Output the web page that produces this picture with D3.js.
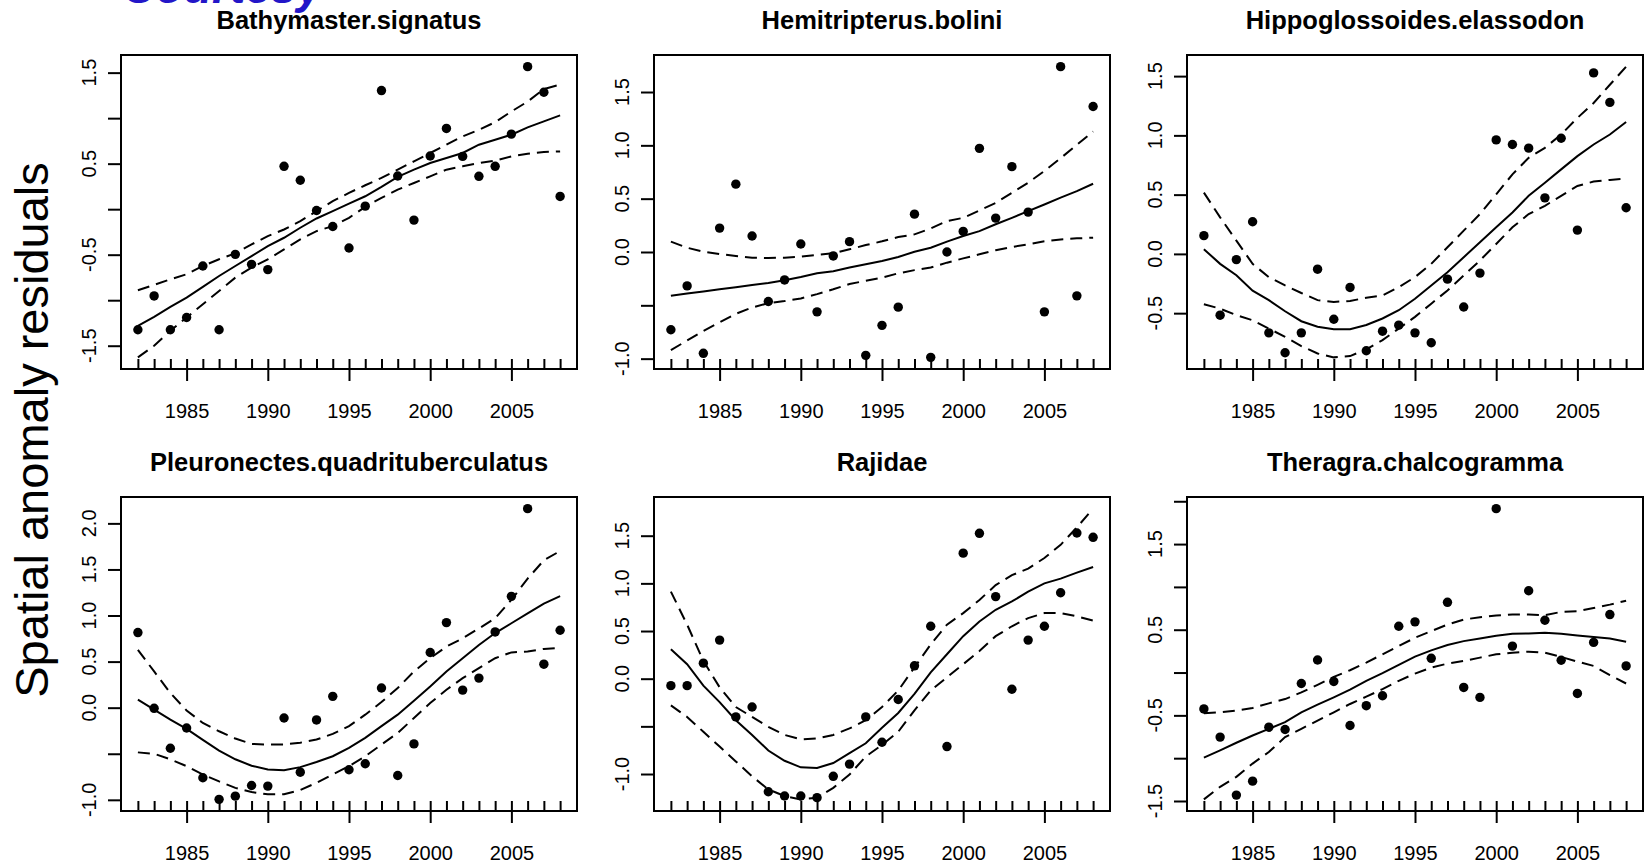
<!DOCTYPE html>
<html><head><meta charset="utf-8">
<script src="https://cdn.jsdelivr.net/npm/d3@7"></script>
<style>
html,body{margin:0;padding:0;background:#fff;}
svg{display:block;}
text{font-family:"Liberation Sans",Arial,Helvetica,sans-serif;}
</style></head><body>
<svg id="chart" width="1648" height="865"></svg>
<script>
// ---------------- DATA ----------------
const years = [1982,1983,1984,1985,1986,1987,1988,1989,1990,1991,1992,1993,1994,1995,1996,1997,1998,1999,2000,2001,2002,2003,2004,2005,2006,2007,2008];
const xLabelTicks = [1985,1990,1995,2000,2005];
const yAxisTitle = "Spatial anomaly residuals";
const bannerText = "Courtesy";

const titles = ["Bathymaster.signatus","Hemitripterus.bolini","Hippoglossoides.elassodon",
                "Pleuronectes.quadrituberculatus","Rajidae","Theragra.chalcogramma"];

// Bathymaster.signatus
const bathyPts   = [-1.325,-0.953,-1.325,-1.19,-0.624,-1.325,-0.496,-0.606,-0.664,0.471,0.318,-0.015,-0.19,-0.427,0.033,1.303,0.365,-0.12,0.584,0.887,0.58,0.361,0.471,0.825,1.566,1.285,0.14];
const bathyFit   = [-1.281,-1.182,-1.073,-0.971,-0.854,-0.734,-0.624,-0.515,-0.405,-0.314,-0.204,-0.102,-0.022,0.062,0.142,0.245,0.354,0.434,0.507,0.562,0.617,0.708,0.763,0.818,0.898,0.964,1.03];
const bathyUpper = [-0.89,-0.832,-0.77,-0.715,-0.624,-0.55,-0.485,-0.387,-0.296,-0.223,-0.131,-0.022,0.088,0.179,0.263,0.343,0.434,0.526,0.617,0.708,0.80,0.872,0.956,1.073,1.182,1.32,1.37];
const bathyLower = [-1.628,-1.50,-1.336,-1.19,-1.044,-0.898,-0.752,-0.642,-0.551,-0.442,-0.332,-0.241,-0.186,-0.095,0.026,0.124,0.215,0.288,0.361,0.434,0.471,0.507,0.533,0.58,0.609,0.628,0.635];
const bathyTicks = [-1.5,-1,-0.5,0,0.5,1,1.5];
const bathyTickLabels = [-1.5,-0.5,0.5,1.5];

// Hemitripterus.bolini
const hemiPts   = [-0.729,-0.318,-0.95,0.224,0.636,0.15,-0.464,-0.262,0.075,-0.561,-0.037,0.097,-0.969,-0.688,-0.517,0.355,-0.988,0.0,0.193,0.972,0.318,0.80,0.374,-0.561,1.738,-0.411,1.364];
const hemiFit   = [-0.41,-0.39,-0.37,-0.35,-0.33,-0.31,-0.29,-0.265,-0.235,-0.20,-0.18,-0.145,-0.115,-0.085,-0.047,0.003,0.04,0.097,0.15,0.196,0.26,0.32,0.383,0.445,0.51,0.57,0.64];
const hemiUpper = [0.097,0.04,0.003,-0.02,-0.037,-0.053,-0.056,-0.053,-0.044,-0.028,-0.012,0.025,0.065,0.10,0.14,0.165,0.22,0.29,0.32,0.39,0.46,0.555,0.65,0.76,0.88,1.005,1.13];
const hemiLower = [-0.92,-0.83,-0.74,-0.66,-0.58,-0.52,-0.48,-0.46,-0.436,-0.395,-0.35,-0.30,-0.27,-0.24,-0.20,-0.17,-0.146,-0.10,-0.06,-0.022,0.016,0.047,0.072,0.10,0.118,0.128,0.134];
const hemiTicks = [-1,-0.5,0,0.5,1,1.5];
const hemiTickLabels = [-1,0,0.5,1,1.5];

// Hippoglossoides.elassodon
const hippoPts   = [0.154,-0.517,-0.048,0.271,-0.666,-0.834,-0.666,-0.129,-0.551,-0.283,-0.817,-0.652,-0.601,-0.666,-0.75,-0.213,-0.448,-0.162,0.962,0.923,0.892,0.473,0.976,0.201,1.527,1.278,0.389];
const hippoFit   = [0.04,-0.084,-0.18,-0.31,-0.39,-0.484,-0.568,-0.615,-0.635,-0.635,-0.60,-0.545,-0.475,-0.378,-0.266,-0.154,-0.028,0.098,0.224,0.35,0.49,0.60,0.713,0.825,0.923,1.007,1.113];
const hippoUpper = [0.517,0.308,0.112,-0.084,-0.196,-0.266,-0.33,-0.39,-0.405,-0.397,-0.37,-0.35,-0.28,-0.196,-0.084,0.056,0.196,0.336,0.503,0.671,0.811,0.895,1.007,1.147,1.273,1.427,1.58];
const hippoLower = [-0.425,-0.462,-0.517,-0.56,-0.63,-0.70,-0.778,-0.84,-0.873,-0.862,-0.806,-0.727,-0.63,-0.531,-0.42,-0.308,-0.182,-0.056,0.084,0.224,0.336,0.406,0.49,0.573,0.61,0.624,0.635];
const hippoTicks = [-0.5,0,0.5,1,1.5];
const hippoTickLabels = [-0.5,0,0.5,1,1.5];

// Pleuronectes.quadrituberculatus
const pleuroPts   = [0.815,-0.007,-0.44,-0.22,-0.76,-0.995,-0.96,-0.844,-0.851,-0.112,-0.70,-0.133,0.123,-0.674,-0.609,0.213,-0.736,-0.393,0.599,0.923,0.191,0.321,0.822,1.208,2.16,0.472,0.84];
const pleuroFit   = [0.087,-0.02,-0.13,-0.23,-0.35,-0.465,-0.56,-0.63,-0.67,-0.68,-0.645,-0.59,-0.527,-0.436,-0.328,-0.20,-0.076,0.076,0.23,0.393,0.537,0.68,0.81,0.916,1.024,1.13,1.21];
const pleuroUpper = [0.628,0.393,0.159,-0.03,-0.166,-0.256,-0.335,-0.393,-0.40,-0.40,-0.38,-0.346,-0.285,-0.20,-0.076,0.061,0.213,0.393,0.537,0.663,0.753,0.86,0.97,1.17,1.40,1.60,1.70];
const pleuroLower = [-0.485,-0.50,-0.56,-0.635,-0.725,-0.80,-0.87,-0.916,-0.94,-0.94,-0.894,-0.815,-0.725,-0.635,-0.527,-0.40,-0.275,-0.112,0.05,0.195,0.32,0.43,0.537,0.60,0.61,0.638,0.65];
const pleuroTicks = [-1,-0.5,0,0.5,1,1.5,2];
const pleuroTickLabels = [-1,0,0.5,1,1.5,2];

// Rajidae
const rajPts   = [-0.073,-0.073,0.163,0.405,-0.401,-0.297,-1.186,-1.231,-1.231,-1.248,-1.024,-0.896,-0.401,-0.667,-0.218,0.135,0.55,-0.712,1.317,1.525,0.861,-0.111,0.405,0.55,0.902,1.528,1.483];
const rajFit   = [0.308,0.152,-0.073,-0.246,-0.436,-0.59,-0.754,-0.861,-0.93,-0.937,-0.885,-0.78,-0.678,-0.515,-0.36,-0.16,0.066,0.256,0.446,0.60,0.723,0.81,0.913,1.0,1.05,1.113,1.172];
const rajUpper = [0.913,0.567,0.187,-0.09,-0.297,-0.401,-0.505,-0.59,-0.636,-0.626,-0.59,-0.522,-0.436,-0.297,-0.124,0.118,0.36,0.567,0.688,0.826,0.982,1.086,1.155,1.266,1.404,1.587,1.784];
const rajLower = [-0.28,-0.401,-0.557,-0.712,-0.868,-1.024,-1.162,-1.231,-1.266,-1.248,-1.145,-1.006,-0.816,-0.695,-0.557,-0.332,-0.124,0.014,0.152,0.29,0.446,0.55,0.636,0.688,0.688,0.654,0.609];
const rajTicks = [-1,-0.5,0,0.5,1,1.5];
const rajTickLabels = [-1,0,0.5,1,1.5];

// Theragra.chalcogramma
const theraPts   = [-0.425,-0.754,-1.431,-1.268,-0.638,-0.665,-0.128,0.147,-0.104,-0.619,-0.387,-0.271,0.541,0.592,0.166,0.82,-0.174,-0.29,1.914,0.309,0.955,0.611,0.143,-0.244,0.352,0.677,0.077];
const theraFit   = [-0.994,-0.909,-0.82,-0.735,-0.657,-0.58,-0.464,-0.375,-0.29,-0.20,-0.097,-0.008,0.089,0.186,0.259,0.321,0.367,0.398,0.429,0.452,0.456,0.464,0.452,0.433,0.414,0.398,0.36];
const theraUpper = [-0.476,-0.464,-0.445,-0.414,-0.36,-0.31,-0.232,-0.143,-0.05,0.027,0.116,0.213,0.309,0.406,0.483,0.561,0.619,0.646,0.665,0.677,0.677,0.669,0.708,0.715,0.754,0.793,0.839];
const theraLower = [-1.481,-1.334,-1.218,-1.063,-0.928,-0.754,-0.657,-0.561,-0.464,-0.367,-0.282,-0.193,-0.097,-0.012,0.058,0.104,0.135,0.174,0.213,0.232,0.244,0.232,0.182,0.128,0.077,-0.031,-0.128];
const theraTicks = [-1.5,-1,-0.5,0,0.5,1,1.5,2];
const theraTickLabels = [-1.5,-0.5,0.5,1.5];

// ---------------- LAYOUT ----------------
const W = 1648, H = 865;
const colLeft = [121, 654, 1187];
const rowTop = [55, 497];
const plotW = 456, plotH = 314;

const panels = [
  {title: titles[0], pts: bathyPts,  fit: bathyFit,  up: bathyUpper,  lo: bathyLower,  ticks: bathyTicks,  labs: bathyTickLabels},
  {title: titles[1], pts: hemiPts,   fit: hemiFit,   up: hemiUpper,   lo: hemiLower,   ticks: hemiTicks,   labs: hemiTickLabels},
  {title: titles[2], pts: hippoPts,  fit: hippoFit,  up: hippoUpper,  lo: hippoLower,  ticks: hippoTicks,  labs: hippoTickLabels},
  {title: titles[3], pts: pleuroPts, fit: pleuroFit, up: pleuroUpper, lo: pleuroLower, ticks: pleuroTicks, labs: pleuroTickLabels},
  {title: titles[4], pts: rajPts,    fit: rajFit,    up: rajUpper,    lo: rajLower,    ticks: rajTicks,    labs: rajTickLabels},
  {title: titles[5], pts: theraPts,  fit: theraFit,  up: theraUpper,  lo: theraLower,  ticks: theraTicks,  labs: theraTickLabels}
];

const svg = d3.select("#chart");
svg.append("rect").attr("width", W).attr("height", H).attr("fill", "#fff");

// partially visible banner text at the very top (only its lower edge shows, as in the reference)
svg.append("text")
  .attr("x", 322).attr("y", 3)
  .attr("text-anchor", "end")
  .attr("font-size", 46).attr("font-style", "italic").attr("font-weight", "bold")
  .attr("fill", "#2316c8")
  .text(bannerText);

// outer y title
svg.append("text")
  .attr("transform", "translate(48,430) rotate(-90)")
  .attr("text-anchor", "middle")
  .attr("font-size", 47)
  .attr("fill", "#000")
  .text(yAxisTitle);

const fmt = v => v.toFixed(1);

panels.forEach((p, i) => {
  const left = colLeft[i % 3], top = rowTop[Math.floor(i / 3)];
  const g = svg.append("g");

  const x = d3.scaleLinear()
    .domain([d3.min(years) - 0.04 * (d3.max(years) - d3.min(years)), d3.max(years) + 0.04 * (d3.max(years) - d3.min(years))])
    .range([left, left + plotW]);
  const all = p.pts.concat(p.fit, p.up, p.lo);
  const [mn, mx] = d3.extent(all);
  const pad = 0.04 * (mx - mn);
  const y = d3.scaleLinear().domain([mn - pad, mx + pad]).range([top + plotH, top]);

  const bottom = top + plotH;

  // title
  g.append("text")
    .attr("x", left + plotW / 2).attr("y", top - 26.5)
    .attr("text-anchor", "middle")
    .attr("font-size", 25.5).attr("font-weight", "bold")
    .text(p.title);

  // y axis ticks (outward)
  const yAxis = d3.axisLeft(y).tickValues(p.ticks).tickSize(13).tickFormat("");
  g.append("g").attr("transform", `translate(${left},0)`).call(yAxis)
    .call(s => s.select(".domain").remove())
    .call(s => s.selectAll("line").attr("stroke", "#000").attr("stroke-width", 2));
  // y tick labels (rotated, parallel to axis)
  g.selectAll(".ylab").data(p.labs).enter().append("text")
    .attr("transform", d => `translate(${left - 25},${y(d)}) rotate(-90)`)
    .attr("text-anchor", "middle")
    .attr("font-size", 20)
    .text(fmt);

  // x axis: yearly inward minor ticks
  const xMinor = d3.axisTop(x).tickValues(years).tickSize(10).tickFormat("");
  g.append("g").attr("transform", `translate(0,${bottom})`).call(xMinor)
    .call(s => s.select(".domain").remove())
    .call(s => s.selectAll("line").attr("stroke", "#000").attr("stroke-width", 2));
  // x axis: major outward ticks with labels
  const xMajor = d3.axisBottom(x).tickValues(xLabelTicks).tickSize(12).tickPadding(24).tickFormat(d3.format("d"));
  g.append("g").attr("transform", `translate(0,${bottom})`).call(xMajor)
    .call(s => s.select(".domain").remove())
    .call(s => s.selectAll("line").attr("stroke", "#000").attr("stroke-width", 2))
    .call(s => s.selectAll("text").attr("font-size", 20).attr("fill", "#000")
      .attr("font-family", '"Liberation Sans",Arial,sans-serif').attr("dy", "0").attr("y", 49));

  // lines
  const line = d3.line().x((d, k) => x(years[k])).y(d => y(d));
  g.append("path").attr("d", line(p.up)).attr("fill", "none").attr("stroke", "#000")
    .attr("stroke-width", 2).attr("stroke-dasharray", "12,7");
  g.append("path").attr("d", line(p.lo)).attr("fill", "none").attr("stroke", "#000")
    .attr("stroke-width", 2).attr("stroke-dasharray", "12,7");
  g.append("path").attr("d", line(p.fit)).attr("fill", "none").attr("stroke", "#000")
    .attr("stroke-width", 2);

  // points
  g.selectAll(".pt").data(p.pts).enter().append("circle")
    .attr("cx", (d, k) => x(years[k])).attr("cy", d => y(d))
    .attr("r", 4.7).attr("fill", "#000");

  // box
  g.append("rect").attr("x", left).attr("y", top).attr("width", plotW).attr("height", plotH)
    .attr("fill", "none").attr("stroke", "#000").attr("stroke-width", 2);
});
</script>
</body></html>
